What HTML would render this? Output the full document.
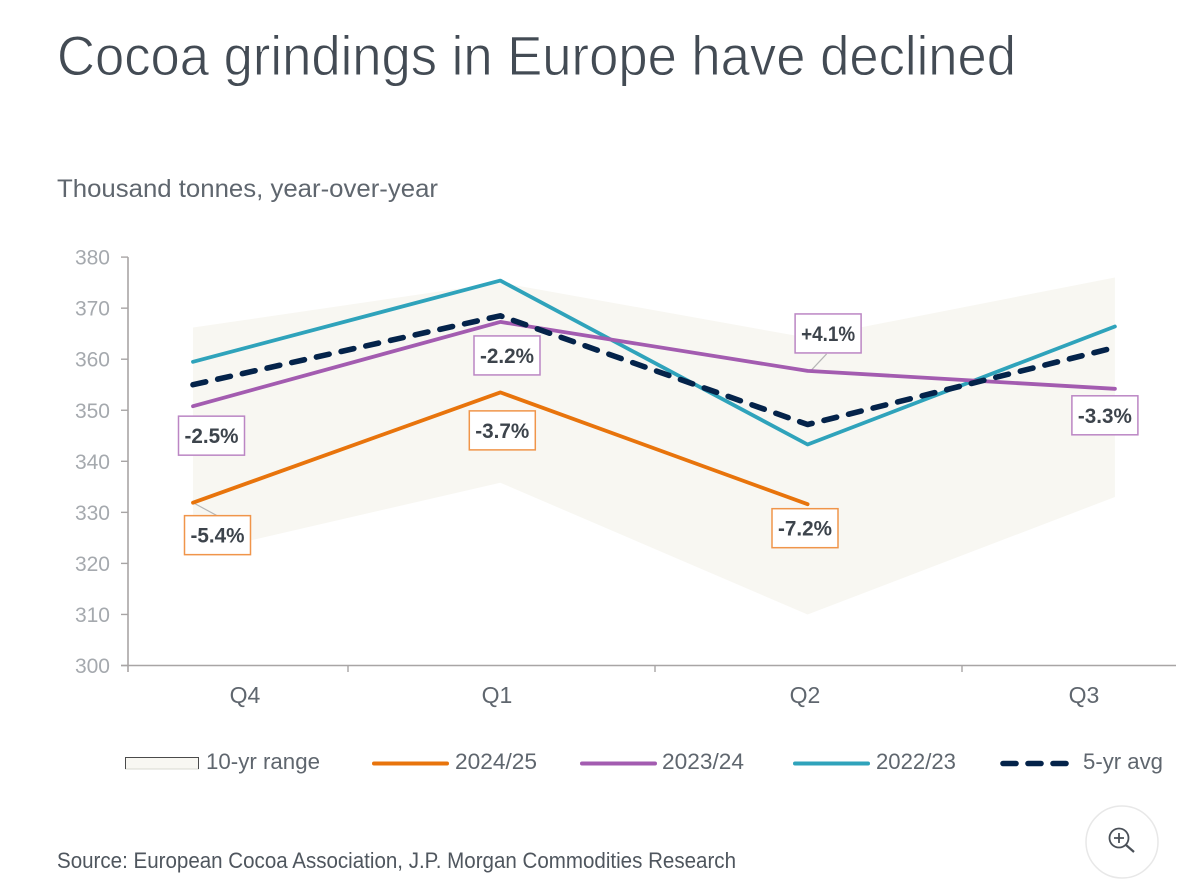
<!DOCTYPE html>
<html lang="en">
<head>
<meta charset="utf-8">
<title>Cocoa grindings in Europe have declined</title>
<style>
html,body{margin:0;padding:0;background:#fff;width:1181px;height:887px;overflow:hidden}
svg{display:block}
text{font-family:"Liberation Sans",sans-serif}
</style>
</head>
<body>
<svg id="chart" width="1181" height="887" viewBox="0 0 1181 887" xmlns="http://www.w3.org/2000/svg">
  <text x="57" y="75" font-size="56" fill="#434b54" stroke="#fff" stroke-width="0.9" textLength="959" lengthAdjust="spacingAndGlyphs">Cocoa grindings in Europe have declined</text>
  <text x="57" y="197" font-size="25" fill="#5f666e" textLength="381" lengthAdjust="spacingAndGlyphs">Thousand tonnes, year-over-year</text>
  <g id="plot"></g>
  <g>
    <g>
      <rect x="125.5" y="757.5" width="73" height="11.5" fill="#f8f7f2" stroke="#d8d8d0" stroke-width="1"/>
      <path d="M125.5 769V757.5H198.5V769" fill="none" stroke="#4a4a4a" stroke-width="1"/>
      <text x="206" y="769" font-size="22" fill="#5f666e" textLength="114" lengthAdjust="spacingAndGlyphs">10-yr range</text>
    </g>
    <g>
      <line x1="374" y1="763.5" x2="447" y2="763.5" stroke="#e8740c" stroke-width="4" stroke-linecap="round"/>
      <text x="455" y="769" font-size="22" fill="#5f666e" textLength="82" lengthAdjust="spacingAndGlyphs">2024/25</text>
    </g>
    <g>
      <line x1="582" y1="763.5" x2="655" y2="763.5" stroke="#a35cb0" stroke-width="4" stroke-linecap="round"/>
      <text x="662" y="769" font-size="22" fill="#5f666e" textLength="82" lengthAdjust="spacingAndGlyphs">2023/24</text>
    </g>
    <g>
      <line x1="795" y1="763.5" x2="868" y2="763.5" stroke="#2fa3bb" stroke-width="4" stroke-linecap="round"/>
      <text x="876" y="769" font-size="22" fill="#5f666e" textLength="80" lengthAdjust="spacingAndGlyphs">2022/23</text>
    </g>
    <g>
      <line x1="1003" y1="763.5" x2="1071" y2="763.5" stroke="#04234a" stroke-width="5.6" stroke-linecap="round" stroke-dasharray="13 12"/>
      <text x="1083" y="769" font-size="22" fill="#5f666e" textLength="80" lengthAdjust="spacingAndGlyphs">5-yr avg</text>
    </g>
  </g>
  <text x="57" y="868" font-size="22" fill="#4f565e" textLength="679" lengthAdjust="spacingAndGlyphs">Source: European Cocoa Association, J.P. Morgan Commodities Research</text>
  <g style="cursor:pointer">
    <circle cx="1122" cy="842" r="36" fill="#fff" stroke="#e8e8e8" stroke-width="1.5"/>
    <g fill="none" stroke="#4a5058" stroke-width="1.8">
      <circle cx="1119" cy="838" r="9.5"/>
      <path d="M1114 838H1124M1119 833V843"/>
      <path d="M1126 845L1134 852" stroke-width="2.2"/>
    </g>
  </g>
</svg>
<script>
const categories = ['Q4', 'Q1', 'Q2', 'Q3'];
const yTicks = [300, 310, 320, 330, 340, 350, 360, 370, 380];
const rangeHigh = [366.2, 375, 364.2, 376];
const rangeLow = [321.9, 335.8, 310, 333];
const series2022 = [359.5, 375.4, 343.3, 366.4];
const series2023 = [350.8, 367.3, 357.7, 354.2];
const series2024 = [331.9, 353.5, 331.6];
const seriesAvg = [355, 368.5, 347.2, 362.3];
const labels2023 = ['-2.5%', '-2.2%', '+4.1%', '-3.3%'];
const labels2024 = ['-5.4%', '-3.7%', '-7.2%'];

const NS = 'http://www.w3.org/2000/svg';
const plot = document.getElementById('plot');
const xScale = i => 193 + i * 307.3;
const yScale = v => 665.5 - (v - 300) * 5.105;
const catLabelX = [245, 497, 805, 1084];
const boundaryX = [348, 655, 962];
const offsets2023 = [[18.5, 10], [6.7, 14], [20.5, -57], [-10, 7]];
const offsets2024 = [[24.5, 13], [2, 18.5], [-2.6, 4.5]];
const leaders2023 = [null, null, [16, -17], null];
const leaders2024 = [[24, 13], null, null];

function make(tag, attrs, parent) {
  const el = document.createElementNS(NS, tag);
  for (const k in attrs) el.setAttribute(k, attrs[k]);
  (parent || plot).appendChild(el);
  return el;
}
const pts = arr => arr.map((v, i) => xScale(i).toFixed(1) + ',' + yScale(v).toFixed(1));

const band = make('polygon', {
  points: pts(rangeHigh).concat(pts(rangeLow).reverse()).join(' '),
  fill: '#f8f7f2'
});



const yAxis = make('line', {x1: 128, y1: yScale(380), x2: 128, y2: 672, stroke: '#a8a5a5', 'stroke-width': 1.6});


const xAxis = make('line', {x1: 121, y1: yScale(300), x2: 1176, y2: yScale(300), stroke: '#a8a5a5', 'stroke-width': 1.6});



yTicks.forEach(t => {
  const tick = make('line', {x1: 121, x2: 128, y1: yScale(t), y2: yScale(t), stroke: '#a8a5a5', 'stroke-width': 1.4});
  
  
  const lab = make('text', {x: 110, y: yScale(t) + 7.5, 'text-anchor': 'end', 'font-size': 21, fill: '#a5a9ae'});
  
  
  lab.textContent = t;
});
boundaryX.forEach(x => {
  const tick = make('line', {x1: x, x2: x, y1: yScale(300), y2: 672, stroke: '#a8a5a5', 'stroke-width': 1.4});
  
  
});
categories.forEach((c, i) => {
  const lab = make('text', {x: catLabelX[i], y: 703, 'text-anchor': 'middle', 'font-size': 23, fill: '#5f666e'});
  
  
  lab.textContent = c;
});

function drawLeaders(values, leaders) {
  leaders.forEach((l, i) => {
    if (!l) return;
    const x = xScale(i) + (i === 2 ? 3 : 0), y = yScale(values[i]);
    const ln = make('line', {x1: x, y1: y, x2: x + l[0], y2: y + l[1], stroke: '#b5b5b5', 'stroke-width': 1.2});
    
    
  });
}
drawLeaders(series2024, leaders2024);
drawLeaders(series2023, leaders2023);

const s22 = make('polyline', {points: pts(series2022).join(' '), fill: 'none', stroke: '#2fa3bb', 'stroke-width': 3.8, 'stroke-linejoin': 'round', 'stroke-linecap': 'round'});


const s23 = make('polyline', {points: pts(series2023).join(' '), fill: 'none', stroke: '#a35cb0', 'stroke-width': 3.8, 'stroke-linejoin': 'round', 'stroke-linecap': 'round'});


const s24 = make('polyline', {points: pts(series2024).join(' '), fill: 'none', stroke: '#e8740c', 'stroke-width': 3.8, 'stroke-linejoin': 'round', 'stroke-linecap': 'round'});


const sAvg = make('polyline', {points: pts(seriesAvg).join(' '), fill: 'none', stroke: '#04234a', 'stroke-width': 5.6, 'stroke-linejoin': 'round', 'stroke-linecap': 'round', 'stroke-dasharray': '13 12.3'});



function drawBoxes(values, texts, offsets, color) {
  texts.forEach((t, i) => {
    const cx = xScale(i) + offsets[i][0];
    const cy = yScale(values[i]) + offsets[i][1] + 19.5;
    const box = make('rect', {x: cx - 33, y: cy - 19.5, width: 66, height: 39, fill: '#fff', stroke: color, 'stroke-width': 1.5});
    
    
    const lab = make('text', {x: cx, y: cy + 7.5, 'text-anchor': 'middle', 'font-size': 21, 'font-weight': 700, fill: '#3d444c', stroke: 'none', textLength: 54, lengthAdjust: 'spacingAndGlyphs'});
    
    
    lab.textContent = t;
  });
}
drawBoxes(series2023, labels2023, offsets2023, '#bb86c4');
drawBoxes(series2024, labels2024, offsets2024, '#f0954a');
</script>
</body>
</html>
